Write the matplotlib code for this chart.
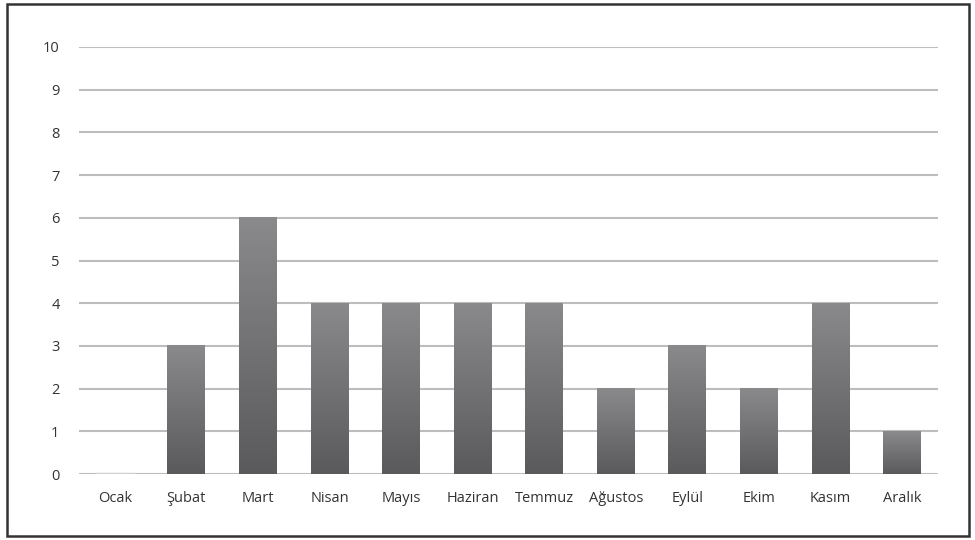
import matplotlib
matplotlib.use("Agg")
import matplotlib.pyplot as plt
import numpy as np
from matplotlib.patches import Rectangle

months = ['Ocak', 'Şubat', 'Mart', 'Nisan', 'Mayıs', 'Haziran', 'Temmuz',
          'Ağustos', 'Eylül', 'Ekim', 'Kasım', 'Aralık']
values = [0, 3, 6, 4, 4, 4, 4, 2, 3, 2, 4, 1]
yticks = list(range(0, 11))

plt.rcParams['font.family'] = ['Open Sans', 'DejaVu Sans']

fig = plt.figure(figsize=(9.75, 5.4), dpi=100)
ax = fig.add_axes([0.081, 0.122, 0.881, 0.791])

x = np.arange(len(months))
width = 0.53
bars = ax.bar(x, values, width=width, color='none', edgecolor='none', zorder=3)

# vertical gradient inside each bar (light at top, dark at bottom)
grad = np.linspace(0, 1, 256).reshape(-1, 1)
cmap = matplotlib.colors.LinearSegmentedColormap.from_list('g', ['#5a5a5c', '#8a8a8c'])
for b in bars:
    h = b.get_height()
    if h <= 0:
        ax.plot([b.get_x(), b.get_x() + width], [0.02, 0.02], color='#d0d0d0', lw=1, zorder=3)
        continue
    ax.imshow(grad, cmap=cmap, aspect='auto', origin='lower', zorder=3,
              extent=[b.get_x(), b.get_x() + width, 0, h])

ax.set_xlim(-0.5, len(months) - 0.5)
ax.set_ylim(0, 10)
ax.set_yticks(yticks)
ax.set_xticks(x)
ax.set_xticklabels(months)
ax.yaxis.grid(True, color='#bdbdbd', lw=1.5, zorder=0)
ax.set_axisbelow(True)
for s in ax.spines.values():
    s.set_visible(False)
ax.tick_params(length=0, labelsize=10.5, colors='#333333', pad=12)
ax.tick_params(axis='y', pad=14)

fig.patches.append(Rectangle((0.007, 0.008), 0.987, 0.984, transform=fig.transFigure,
                             fill=False, edgecolor='#333333', lw=1.8))

fig.savefig('out.png', dpi=100)
